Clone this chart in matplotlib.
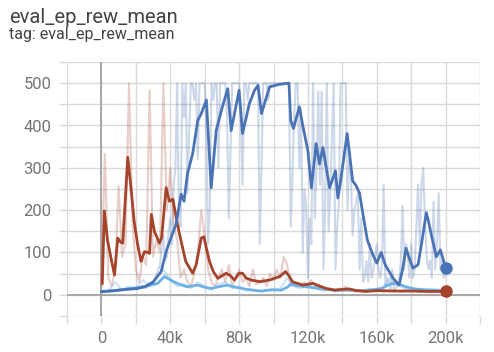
import numpy as np
import matplotlib
matplotlib.use("Agg")
import matplotlib.pyplot as plt
from matplotlib.ticker import MultipleLocator, FuncFormatter

plt.rcParams['font.family'] = ['Roboto', 'DejaVu Sans']

# raw blue run, one point every 1k steps (0 .. 200k)
blue_steps = np.arange(0, 201, 1) * 1000
blue_raw = [8, 7, 6, 9, 8, 10, 9, 8, 11, 10,
            12, 10, 11, 14, 12, 13, 15, 12, 16, 14,
            14, 18, 16, 20, 22, 18, 16, 25, 28, 24,
            30, 40, 45, 60, 70, 110, 140, 80, 90, 150,
            180, 120, 260, 300, 500, 200, 160, 500, 420, 500,
            240, 380, 500, 500, 460, 500, 320, 500, 500, 500,
            500, 380, 120, 200, 500, 460, 500, 500, 300, 500,
            500, 500, 500, 420, 180, 340, 500, 500, 500, 500,
            500, 420, 260, 500, 500, 460, 500, 500, 500, 500,
            500, 500, 120, 300, 500, 500, 500, 460, 500, 500,
            500, 500, 500, 500, 500, 500, 500, 500, 500, 500,
            160, 280, 420, 500, 500, 300, 440, 100, 250, 210,
            40, 180, 120, 500, 180, 300, 480, 260, 480, 60,
            200, 500, 150, 240, 380, 500, 60, 160, 220, 500,
            500, 500, 500, 200, 320, 280, 140, 200, 220, 240,
            60, 180, 30, 40, 80, 30, 120, 40, 60, 90,
            120, 60, 40, 70, 260, 20, 40, 30, 10, 60,
            10, 15, 20, 30, 80, 210, 60, 120, 100, 40,
            120, 40, 60, 160, 260, 110, 260, 300, 180, 90,
            60, 80, 40, 220, 60, 120, 240, 60, 80, 40,
            50]
# raw red run, every 2k steps (0 .. 200k)
red_steps = np.arange(0, 201, 2) * 1000
red_raw = [20, 333, 40, 20, 60, 257, 90, 120, 500, 180, 60, 30, 90, 70, 483, 90, 130, 100,
           500, 200, 300, 160, 130, 40, 60, 30, 20, 50, 100, 200, 140, 60, 30, 20, 40, 60,
           30, 70, 20, 40, 60, 30, 40, 20, 60, 25, 30, 40, 20, 50, 35, 60, 40, 90, 70, 20,
           30, 20, 25, 30, 20, 35, 20, 15, 20, 10, 15, 10, 12, 15, 10, 20, 10, 12, 8, 10, 6,
           8, 10, 8, 12, 9, 7, 10, 8, 11, 9, 7, 10, 8, 9, 12, 8, 7, 10, 9, 8, 11, 8, 9, 8]
# raw light blue run, every 4k steps (0 .. 196k)
lb_steps = np.arange(0, 197, 4) * 1000
lb_raw = [6, 10, 30, 12, 20, 15, 35, 20, 40, 60, 35, 20, 25, 15, 30, 20, 12, 25, 30, 15,
          20, 10, 12, 8, 10, 12, 15, 40, 20, 15, 25, 15, 10, 12, 8, 10, 12, 8, 10, 14, 10,
          20, 40, 25, 15, 12, 10, 12, 8, 10]

# smoothed curves (step in k, value)
blue_sm_x = [0, 5, 10, 15, 21, 25, 30, 34.7, 37.6, 40, 43.4, 46.3, 48, 50, 53, 56, 58, 61,
             63.8, 66.7, 70, 73.4, 75.4, 80, 82, 86, 89, 91, 93, 97.7, 103, 109, 110, 111.6,
             115, 117, 120, 122, 124.8, 126.7, 128.7, 132.6, 136, 137.4, 139, 142.8, 146, 148,
             150, 152, 154.5, 157.7, 160, 162.6, 165, 166.5, 169.4, 173, 175, 177, 179, 181,
             184, 186, 188.8, 190, 191.7, 194.6, 197, 200]
blue_sm_y = [8, 9, 11, 13, 15, 19, 30, 55, 102, 130, 167, 238, 221, 286, 333, 412, 428, 460,
             253, 388, 440, 487, 388, 483, 381, 452, 483, 495, 428, 491, 497, 500, 412, 393,
             444, 400, 340, 253, 357, 309, 348, 253, 293, 229, 269, 381, 269, 258,
             240, 190, 130, 95, 75, 100, 70, 60, 40, 23, 60, 110, 85, 63,
             71, 120, 194, 175, 142, 90, 106, 64]
red_sm_x = [0.5, 1.7, 3.5, 5.6, 7.6, 9.5, 11, 12.4, 15.3, 17, 19, 21, 23, 25, 27, 28, 29, 30.8,
            33.7, 35, 37.6, 39.5, 41.5, 45, 49, 53, 55, 58, 59.5, 62.8, 65, 67.6, 70, 72.5, 75,
            77.3, 80, 82, 84, 87, 92, 97.7, 103.5, 105, 107, 109, 111, 117, 123, 126, 130.6,
            136, 140, 144, 148, 154, 160, 170, 180, 190, 200]
red_sm_y = [27, 198, 130, 86, 47, 134, 125, 122, 325, 260, 174, 120, 79, 102, 100, 98, 190, 150,
            122, 135, 253, 221, 226, 150, 79, 51, 70, 134, 137, 79, 55, 39, 45, 51, 45,
            35, 51, 51, 40, 35, 31, 35, 43, 48, 55, 45, 31, 23, 27, 22, 15,
            11, 13, 14, 10, 8, 10, 9, 9, 8, 8]
lb_sm_x = [0, 8, 15, 25, 32.7, 36.6, 39, 42, 46, 50, 56, 60, 63.8, 68, 73, 78, 83, 88, 93, 99,
           104.5, 108, 110, 113, 119, 125, 130, 136, 145, 152, 157.6, 163, 166, 169, 173, 177,
           182, 188, 196, 198]
lb_sm_y = [7, 10, 14, 19, 27, 43, 38, 31, 24, 19, 23, 18, 15, 19, 23, 18, 14, 11, 9, 12,
           11, 18, 25, 22, 19, 16, 13, 11, 11, 10, 12, 15, 22, 27, 25, 19,
           14, 12, 11, 10]

c_blue = '#4a73b5'
c_red = '#a5432b'
c_lb = '#6db1e8'

fig = plt.figure(figsize=(4.94, 3.52), dpi=100)
ax = fig.add_axes([67 / 494, 36 / 352, 413 / 494, 254 / 352])

grid_c = '#d9d9d9'
ax.set_xlim(-20000, 220000)
ax.set_ylim(-50, 550)
ax.xaxis.set_major_locator(MultipleLocator(40000))
ax.xaxis.set_minor_locator(MultipleLocator(20000))
ax.yaxis.set_major_locator(MultipleLocator(100))
ax.yaxis.set_minor_locator(MultipleLocator(50))
ax.xaxis.set_major_formatter(FuncFormatter(lambda v, p: '0' if v == 0 else f'{int(v / 1000)}k'))
ax.grid(True, which='both', color=grid_c, lw=1.0)
ax.set_axisbelow(True)
ax.tick_params(which='both', length=6, width=1.0, color=grid_c, labelcolor='#757575',
               labelsize=12, pad=5)
for s in ax.spines.values():
    s.set_visible(False)
ax.axhline(0, color='#9e9e9e', lw=1.2, zorder=1)
ax.axvline(0, color='#9e9e9e', lw=1.2, zorder=1)

ax.plot(blue_steps, blue_raw, color=c_blue, alpha=0.28, lw=1.5, zorder=2)
ax.plot(red_steps, red_raw, color=c_red, alpha=0.26, lw=1.5, zorder=2)
ax.plot(lb_steps, lb_raw, color=c_lb, alpha=0.35, lw=1.5, zorder=2)

ax.plot(np.array(lb_sm_x) * 1000, lb_sm_y, color=c_lb, lw=2.0, zorder=3)
ax.plot(np.array(red_sm_x) * 1000, red_sm_y, color=c_red, lw=2.0, zorder=4)
ax.plot(np.array(blue_sm_x) * 1000, blue_sm_y, color=c_blue, lw=2.0, zorder=5)
ax.plot(blue_sm_x[-1] * 1000, blue_sm_y[-1], 'o', color=c_blue, ms=8, zorder=6)
ax.plot(red_sm_x[-1] * 1000, red_sm_y[-1], 'o', color=c_red, ms=8, zorder=6)

fig.text(9 / 494, 1 - 22.7 / 352, 'eval_ep_rew_mean', fontsize=14.5, color='#424242', va='baseline')
fig.text(9 / 494, 1 - 39.3 / 352, 'tag: eval_ep_rew_mean', fontsize=11.5, color='#424242', va='baseline')

fig.savefig('out.png', dpi=100, facecolor='white')
